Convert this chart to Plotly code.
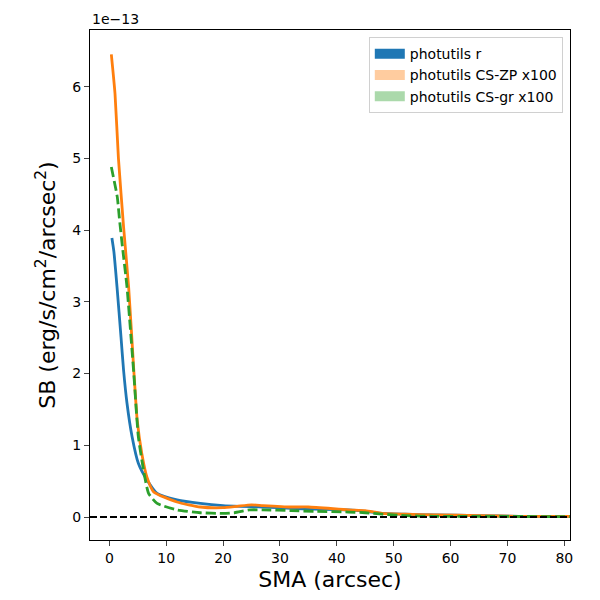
import plotly.graph_objects as go

# SMA in arcsec, surface brightness in units of 1e-13 erg/s/cm^2/arcsec^2
sma_r = [0.45, 0.8, 1.35, 2.05, 2.5, 3.1, 4.0, 5.1, 6.6, 8.4, 11.9, 16.0, 20.0, 23.0, 27.0, 32.0, 36.0, 42.0, 45.0, 48.0, 52.0, 57.0, 65.0, 72.0, 81.0]
sb_r = [3.89, 3.70, 3.21, 2.51, 2.05, 1.59, 1.12, 0.75, 0.52, 0.33, 0.24, 0.19, 0.16, 0.15, 0.14, 0.12, 0.11, 0.10, 0.08, 0.05, 0.04, 0.03, 0.02, 0.01, 0.01]

sma_zp = [0.35, 1.0, 1.6, 2.5, 3.4, 4.3, 4.9, 5.7, 6.6, 7.8, 11.9, 16.0, 20.0, 22.5, 25.0, 27.0, 32.0, 35.0, 42.0, 45.0, 48.0, 52.0, 57.0, 65.0, 72.0, 81.0]
sb_zp = [6.45, 5.90, 5.00, 4.05, 3.20, 2.05, 1.35, 0.89, 0.56, 0.35, 0.21, 0.14, 0.13, 0.15, 0.17, 0.16, 0.14, 0.14, 0.10, 0.09, 0.05, 0.04, 0.03, 0.02, 0.01, 0.01]

sma_gr = [0.35, 1.4, 1.8, 2.3, 3.1, 4.3, 5.1, 6.0, 6.9, 8.4, 11.9, 16.0, 20.0, 22.0, 24.7, 27.0, 32.0, 36.0, 42.0, 45.0, 48.0, 52.0, 57.0, 65.0, 81.0]
sb_gr = [4.88, 4.46, 4.14, 3.77, 3.21, 2.00, 1.12, 0.66, 0.33, 0.19, 0.10, 0.06, 0.05, 0.06, 0.10, 0.10, 0.09, 0.08, 0.07, 0.06, 0.04, 0.02, 0.01, 0.01, 0.005]

legend_names = ["photutils r", "photutils CS-ZP x100", "photutils CS-gr x100"]
legend_fills = ["rgb(31,119,180)", "rgba(255,127,14,0.4)", "rgba(44,160,44,0.4)"]

fig = go.Figure()

fig.add_hline(y=0, line=dict(color="black", width=2, dash="7px,3px"))

fig.add_trace(go.Scatter(x=sma_r, y=sb_r, mode="lines", line=dict(color="#1f77b4", width=2.8, shape="spline", smoothing=0.5), showlegend=False))
fig.add_trace(go.Scatter(x=sma_zp, y=sb_zp, mode="lines", line=dict(color="#ff7f0e", width=2.8, shape="spline", smoothing=0.5), showlegend=False))
fig.add_trace(go.Scatter(x=sma_gr, y=sb_gr, mode="lines", line=dict(color="#2ca02c", width=2.8, dash="10px,4px", shape="spline", smoothing=0.5), showlegend=False))

# legend patches, matplotlib style (thick legend-only lines)
for name, col in zip(legend_names, legend_fills):
    fig.add_trace(go.Scatter(x=[None], y=[None], mode="lines", line=dict(color=col, width=10), name=name))

fig.add_annotation(text="1e\u221213", xref="paper", yref="paper", x=0, y=1, xanchor="left", yanchor="bottom",
                   showarrow=False, font=dict(size=14, color="black"), yshift=1)

fig.update_layout(
    width=600, height=600,
    margin=dict(l=82, r=38, t=22, b=68),
    plot_bgcolor="white", paper_bgcolor="white",
    font=dict(family="DejaVu Sans", size=14, color="black"),
    legend=dict(x=0.985, y=0.986, xanchor="right", yanchor="top", bgcolor="rgba(255,255,255,0.8)",
                bordercolor="#d0d0d0", borderwidth=1, font=dict(size=14), itemwidth=30, tracegroupgap=0),
)
fig.update_xaxes(range=[-3.4, 81], tickvals=[0, 10, 20, 30, 40, 50, 60, 70, 80], ticks="outside", ticklen=5,
                 showgrid=False, zeroline=False, showline=True, linecolor="black", linewidth=1, mirror=True,
                 title=dict(text="SMA (arcsec)", font=dict(size=22), standoff=6))
fig.update_yaxes(range=[-0.32, 6.79], tickvals=[0, 1, 2, 3, 4, 5, 6], ticks="outside", ticklen=5,
                 showgrid=False, zeroline=False, showline=True, linecolor="black", linewidth=1, mirror=True,
                 title=dict(text="SB (erg/s/cm<sup>2</sup>/arcsec<sup>2</sup>)", font=dict(size=22), standoff=10))

fig.write_html("out.html")
